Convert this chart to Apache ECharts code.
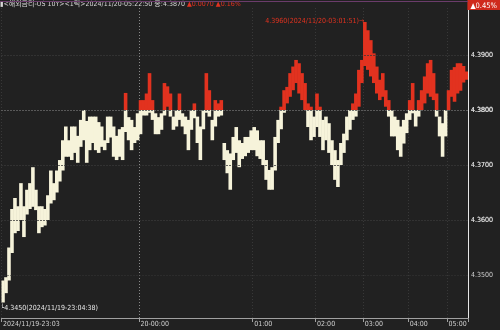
<!DOCTYPE html>
<html><head><meta charset="utf-8">
<script src="https://cdn.jsdelivr.net/npm/echarts@6/dist/echarts.min.js"></script>
<style>html,body{margin:0;padding:0;background:#212121}#c{width:500px;height:330px}</style>
</head><body><div id="c"></div>
<script>
// per-column tick range (high / low) of the US 10Y yield, left to right
const highs = [
4.3490,4.3496,4.3550,4.3620,4.3640,4.3625,4.3667,4.3625,4.3655,4.3667,
4.3696,4.3655,4.3625,4.3625,4.3620,4.3645,4.3690,4.3667,4.3690,4.3709,
4.3745,4.3770,4.3745,4.3770,4.3770,4.3753,4.3782,4.3800,4.3780,4.3788,
4.3788,4.3788,4.3778,4.3770,4.3745,4.3788,4.3788,4.3770,4.3753,4.3765,
4.3769,4.3831,4.3787,4.3782,4.3769,4.3794,4.3818,4.3818,4.3830,4.3867,
4.3818,4.3794,4.3787,4.3794,4.3849,4.3843,4.3830,4.3788,4.3800,4.3830,
4.3794,4.3788,4.3782,4.3800,4.3812,4.3788,4.3770,4.3800,4.3867,4.3836,
4.3782,4.3818,4.3812,4.3818,4.3740,4.3727,4.3721,4.3751,4.3769,4.3745,
4.3740,4.3751,4.3751,4.3763,4.3769,4.3763,4.3745,4.3745,4.3709,4.3691,
4.3696,4.3751,4.3782,4.3806,4.3836,4.3842,4.3867,4.3879,4.3891,4.3885,
4.3867,4.3849,4.3812,4.3806,4.3788,4.3830,4.3806,4.3782,4.3788,4.3776,
4.3745,4.3727,4.3709,4.3740,4.3757,4.3788,4.3800,4.3812,4.3830,4.3873,
4.3891,4.3960,4.3945,4.3927,4.3903,4.3879,4.3855,4.3867,4.3836,4.3818,
4.3800,4.3788,4.3782,4.3770,4.3782,4.3794,4.3818,4.3849,4.3800,4.3818,
4.3836,4.3861,4.3885,4.3891,4.3867,4.3830,4.3788,4.3776,4.3800,4.3836,
4.3873,4.3878,4.3885,4.3885,4.3880,4.3870
];
const lows = [
4.3450,4.3467,4.3490,4.3540,4.3576,4.3580,4.3600,4.3569,4.3610,4.3620,
4.3624,4.3618,4.3576,4.3587,4.3590,4.3600,4.3630,4.3636,4.3650,4.3670,
4.3690,4.3715,4.3715,4.3709,4.3722,4.3704,4.3733,4.3745,4.3704,4.3727,
4.3740,4.3727,4.3722,4.3733,4.3727,4.3740,4.3750,4.3715,4.3709,4.3715,
4.3709,4.3760,4.3745,4.3727,4.3740,4.3745,4.3756,4.3790,4.3790,4.3795,
4.3782,4.3756,4.3756,4.3764,4.3790,4.3806,4.3788,4.3764,4.3770,4.3782,
4.3770,4.3756,4.3727,4.3764,4.3785,4.3740,4.3709,4.3765,4.3795,4.3788,
4.3745,4.3770,4.3788,4.3790,4.3709,4.3685,4.3655,4.3709,4.3722,4.3696,
4.3711,4.3716,4.3722,4.3727,4.3727,4.3716,4.3711,4.3700,4.3673,4.3655,
4.3655,4.3690,4.3740,4.3765,4.3795,4.3812,4.3824,4.3836,4.3849,4.3830,
4.3818,4.3800,4.3769,4.3745,4.3751,4.3769,4.3751,4.3727,4.3745,4.3722,
4.3700,4.3673,4.3660,4.3700,4.3722,4.3745,4.3764,4.3782,4.3788,4.3806,
4.3849,4.3880,4.3873,4.3861,4.3849,4.3830,4.3818,4.3824,4.3806,4.3788,
4.3752,4.3752,4.3727,4.3715,4.3739,4.3758,4.3782,4.3794,4.3770,4.3788,
4.3800,4.3812,4.3830,4.3824,4.3818,4.3788,4.3752,4.3715,4.3752,4.3800,
4.3824,4.3815,4.3830,4.3835,4.3850,4.3855
];
const baseline = 4.3800; // previous close
const tickIdx = [0, 46, 84, 105, 121, 136, 149];
const tickLabels = ['2024/11/19-23:03', '20-00:00', '01:00', '02:00', '03:00', '04:00', '05:00'];
const yTicks = [4.3450, 4.3500, 4.3550, 4.3600, 4.3650, 4.3700, 4.3750, 4.3800, 4.3850, 4.3900, 4.3950];
const minText = '4.3450(2024/11/19-23:04:38)';
const maxText = '4.3960(2024/11/20-03:01:51)';
const titleMain = '▮<해외금리-US 10Y><1틱>2024/11/20-05:22:50 종:4.3870';
const titleChg = '▲0.0070 ▲0.16%';

const categories = highs.map((_, i) => String(i));
const creamLen = highs.map((h, i) => Math.max(0, Math.min(h, baseline) - lows[i]));
const redLen = highs.map((h, i) => Math.max(0, h - Math.max(lows[i], baseline)));
const maxV = Math.max(...highs), maxI = highs.indexOf(maxV);
const minV = Math.min(...lows), minI = lows.indexOf(minV);

const FONT = '"DejaVu Sans Condensed","Liberation Sans Narrow","Liberation Sans","Noto Sans CJK KR",sans-serif';
const RED = '#e2321f', CREAM = '#f6f3da';
const fs = 7;
const BW = 3.6;

const chart = echarts.init(document.getElementById('c'), null, {renderer: 'canvas'});
const isTick = (i) => tickIdx.indexOf(i) >= 0;
chart.setOption({
  backgroundColor: '#212121',
  animation: false,
  textStyle: {fontFamily: FONT},
  title: [
    {left: 0, top: 1, padding: 0,
     text: '{w|' + titleMain + '} {r|' + titleChg + '}',
     textStyle: {fontWeight: 'normal', fontSize: fs, rich: {
       w: {color: '#d8d8d8', fontSize: fs, fontWeight: 'normal', fontFamily: FONT},
       r: {color: RED, fontSize: fs, fontWeight: 'normal', fontFamily: FONT}}}},
    {right: 0, top: -6, padding: [0, 3], backgroundColor: '#cf2a1d',
     text: '4.3870\n▲0.45%',
     textStyle: {color: '#ffffff', fontSize: 7.5, lineHeight: 8, fontWeight: 'normal', fontFamily: FONT}}
  ],
  graphic: [{type: 'rect', left: 0, top: 1, shape: {width: 468, height: 1}, style: {fill: '#6b3c6b'}, z: 10}],
  grid: {left: 0, right: 32, top: 8, bottom: 12, containLabel: false},
  xAxis: {
    type: 'category', data: categories, boundaryGap: true,
    axisLine: {show: true, lineStyle: {color: '#a0a0a0', width: 1}},
    axisTick: {show: true, interval: (i) => isTick(i), length: 4, lineStyle: {color: '#a0a0a0'}},
    axisLabel: {interval: (i) => isTick(i), formatter: (v, i) => tickLabels[tickIdx.indexOf(i)] || '',
      color: '#d0d0d0', fontSize: fs, align: 'left', margin: 3, padding: [0, 0, 0, 0], fontFamily: FONT},
    splitLine: {show: true, interval: (i) => isTick(i),
      lineStyle: {color: ['#383838', '#8a8a8a', '#383838', '#383838', '#383838', '#383838', '#383838'], type: [1, 2], width: 1}}
  },
  yAxis: {
    type: 'value', position: 'right', min: 4.342182, max: 4.398545, scale: true,
    axisLine: {show: true, lineStyle: {color: '#e6e6e6', width: 1}},
    axisTick: {show: false}, axisLabel: {show: false}, splitLine: {show: false}
  },
  series: [
    {type: 'line', data: [], z: 1, silent: true,
     markLine: {silent: true, symbol: ['none', 'none'], animation: false,
       data: yTicks.map(v => ({yAxis: v,
         lineStyle: v === baseline ? {color: '#c8c8c8', type: [1, 2], width: 1} : {color: '#383838', type: [1, 2], width: 1}})),
       label: {show: true, position: 'end', distance: 3, color: '#cfcfcf', fontSize: fs, fontFamily: FONT,
         formatter: (p) => Number(p.value).toFixed(4)}}},
    {type: 'bar', stack: 'r', data: lows, z: 2, silent: true, barWidth: BW,
     itemStyle: {color: 'rgba(0,0,0,0)'}},
    {type: 'bar', stack: 'r', data: creamLen, z: 2, silent: true, barWidth: BW,
     itemStyle: {color: CREAM},
     markPoint: {symbol: 'circle', symbolSize: 1, itemStyle: {color: 'rgba(0,0,0,0)'}, animation: false,
       data: [{coord: [String(minI), minV], label: {show: true, position: 'right', distance: 0, offset: [-3, 6],
         color: '#e8e8e8', fontSize: fs, fontFamily: FONT, formatter: () => '└' + minText}}]}},
    {type: 'bar', stack: 'r', data: redLen, z: 2, silent: true, barWidth: BW,
     itemStyle: {color: RED},
     markPoint: {symbol: 'circle', symbolSize: 1, itemStyle: {color: 'rgba(0,0,0,0)'}, animation: false,
       data: [{coord: [String(maxI), maxV], label: {show: true, position: 'left', distance: 0, offset: [0, -1],
         color: RED, fontSize: fs, fontFamily: FONT, formatter: () => maxText + '→'}}]}}
  ]
});
</script></body></html>
